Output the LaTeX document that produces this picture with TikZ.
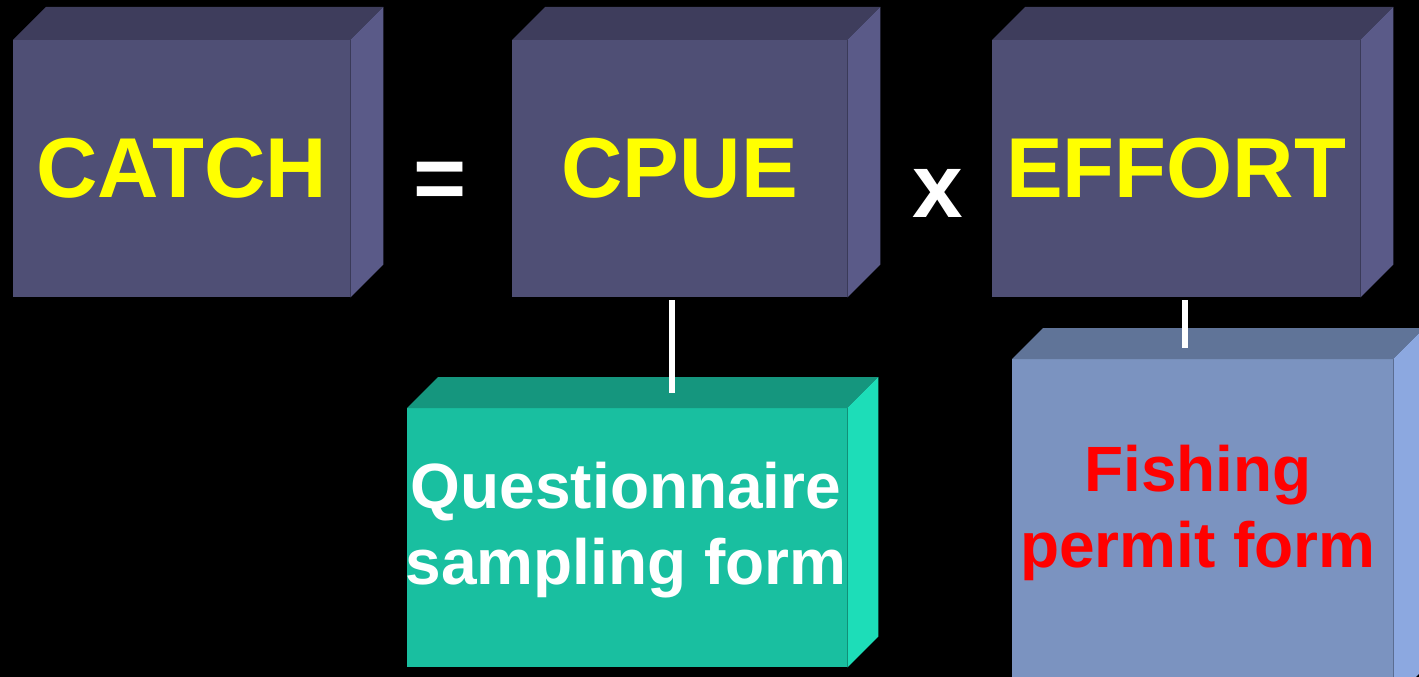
\documentclass[tikz,border=0pt]{standalone}
\usepackage{fontspec}
\setmainfont{Liberation Sans}
\usetikzlibrary{positioning}
\usepackage{xcolor}

\definecolor{purplefront}{HTML}{4F4F75}
\definecolor{purpletop}{HTML}{3E3D5C}
\definecolor{purpleside}{HTML}{5A5A88}
\definecolor{tealfront}{HTML}{19BFA0}
\definecolor{tealtop}{HTML}{15967E}
\definecolor{tealside}{HTML}{1DDDB8}
\definecolor{bluefront}{HTML}{7B93C0}
\definecolor{bluetop}{HTML}{607498}
\definecolor{blueside}{HTML}{8CA8E0}
\definecolor{labelyellow}{HTML}{FFFF00}

\tikzset{
  face/.style={rectangle, inner sep=0pt, anchor=north west, align=center},
  bigtext/.style={font=\bfseries\fontsize{85}{100}\selectfont},
  optext/.style={font=\bfseries\fontsize{91}{100}\selectfont},
  formtext/.style={font=\bfseries\fontsize{64}{76}\selectfont},
  link/.style={draw=white, line width=6pt}
}

% top and right faces of a box: node, depth, top colour, side colour
\newcommand{\boxsides}[4]{%
  \fill[#3] (#1.north west) -- ([shift={(#2pt,#2pt)}]#1.north west)
    -- ([shift={(#2pt,#2pt)}]#1.north east) -- (#1.north east) -- cycle;
  \fill[#4] (#1.north east) -- ([shift={(#2pt,#2pt)}]#1.north east)
    -- ([shift={(#2pt,#2pt)}]#1.south east) -- (#1.south east) -- cycle;
}

\begin{document}
\begin{tikzpicture}[x=1pt,y=-1pt]
	\fill[black] (0,0) rectangle (1419,677);
	\useasboundingbox (0,0) rectangle (1419,677);
	\clip (0,0) rectangle (1419,677);

	\node (catch) [face, bigtext, fill=purplefront, text=labelyellow, minimum width=337pt, minimum height=257pt] at (13,40) {CATCH};
	\node (cpue) [face, bigtext, fill=purplefront, text=labelyellow, minimum width=335pt, minimum height=257pt] at (512,40) {CPUE};
	\node (effort) [face, bigtext, fill=purplefront, text=labelyellow, minimum width=368pt, minimum height=257pt] at (992,40) {EFFORT};
	\boxsides{catch}{33}{purpletop}{purpleside}
	\boxsides{cpue}{33}{purpletop}{purpleside}
	\boxsides{effort}{33}{purpletop}{purpleside}

	\node (equals) [optext, text=white, anchor=base] at (440,209) {=};
	\node (times) [optext, text=white, anchor=base] at (938,217) {x};

	\node (quest) [face, fill=tealfront, minimum width=440pt, minimum height=259pt] at (407,408) {};
	\boxsides{quest}{31}{tealtop}{tealside}
	\node (questtext) [formtext, text=white, align=center] at (626,530) {Questionnaire\\sampling form};

	\node (fish) [face, fill=bluefront, minimum width=381pt, minimum height=340pt] at (1012,359) {};
	\boxsides{fish}{31}{bluetop}{blueside}
	\node (fishtext) [formtext, text=red, align=center] at (1198,513) {Fishing\\permit form};

	\draw[link] ([xshift=-7.5pt,yshift=-3pt]cpue.south) -- ([xshift=-7.5pt,yshift=15pt]cpue.south |- quest.north);
	\draw[link] ([xshift=9pt,yshift=-3pt]effort.south) -- ([xshift=9pt,yshift=11pt]effort.south |- fish.north);
\end{tikzpicture}
\end{document}
